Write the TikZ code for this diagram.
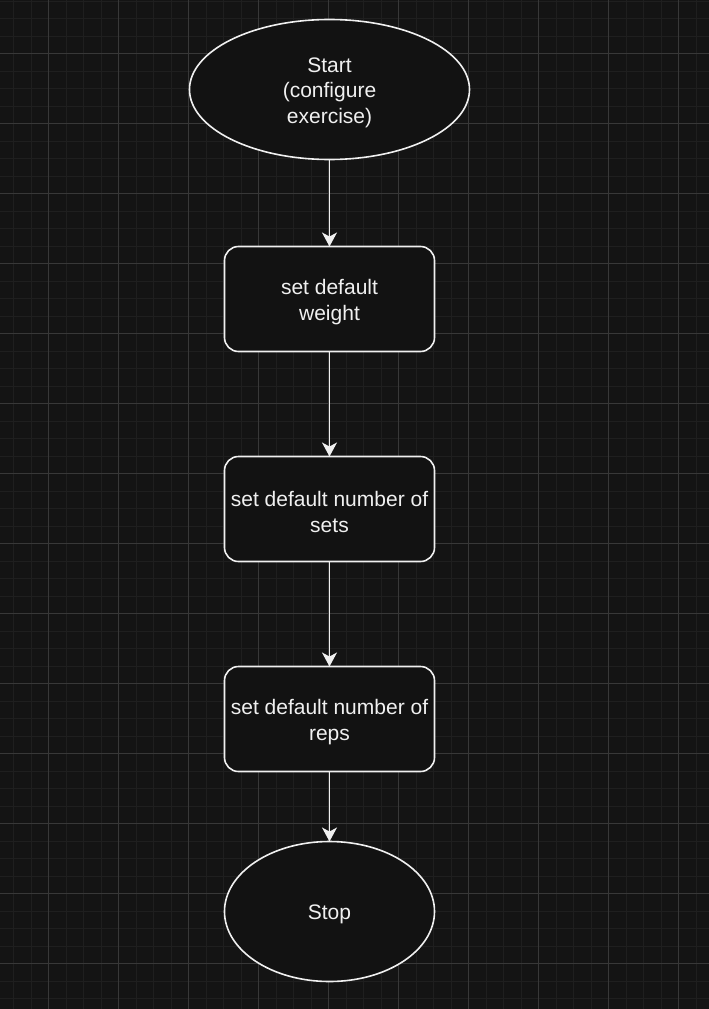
\documentclass[tikz,border=0pt]{standalone}
\usepackage{fontspec}
\setmainfont{Liberation Sans}
\usetikzlibrary{shapes.geometric,arrows.meta}
\definecolor{bgc}{HTML}{141414}
\definecolor{fillc}{HTML}{121212}
\definecolor{minorc}{HTML}{1F1F1F}
\definecolor{majorc}{HTML}{383838}
\definecolor{linec}{HTML}{F0F0F0}
\tikzset{
  base/.style={draw=linec, fill=fillc, line width=1.6pt, inner sep=0pt, outer sep=0pt},
  txt/.style={text=linec, align=center, font=\fontsize{21}{25.5}\selectfont, inner sep=0pt, yshift=-3pt},
  term/.style={base, ellipse},
  stepbox/.style={base, rectangle, rounded corners=14pt, minimum width=210pt, minimum height=105pt},
  flow/.style={draw=linec, line width=1.6pt, -{Stealth[length=14pt,width=15pt,inset=4pt]}}
}
\begin{document}
\begin{tikzpicture}[x=1pt,y=-1pt]
\fill[bgc] (0,0) rectangle (709,1009);
\useasboundingbox (0,0) rectangle (709,1009);
\foreach \x in {13.5,31,...,709} \draw[minorc, line width=1pt] (\x,0) -- (\x,1009);
\foreach \y in {1,18.5,...,1009} \draw[minorc, line width=1pt] (0,\y) -- (709,\y);
\foreach \x in {48.5,118.5,...,709} \draw[majorc, line width=1pt] (\x,0) -- (\x,1009);
\foreach \y in {53.5,123.5,...,1009} \draw[majorc, line width=1pt] (0,\y) -- (709,\y);

\node[term, minimum width=280pt, minimum height=140pt, label={[txt]center:Start\\(configure\\exercise)}] (start) at (329.5,89.5) {};
\node[stepbox, label={[txt]center:set default\\weight}] (w) at (329.5,299) {};
\node[stepbox, label={[txt]center:set default number of\\sets}] (s) at (329.5,509) {};
\node[stepbox, label={[txt]center:set default number of\\reps}] (r) at (329.5,719) {};
\node[term, minimum width=210pt, minimum height=140pt, label={[txt]center:Stop}] (stop) at (329.5,911.5) {};

\draw[flow] (start) -- (w);
\draw[flow] (w) -- (s);
\draw[flow] (s) -- (r);
\draw[flow] (r) -- (stop);
\end{tikzpicture}
\end{document}
